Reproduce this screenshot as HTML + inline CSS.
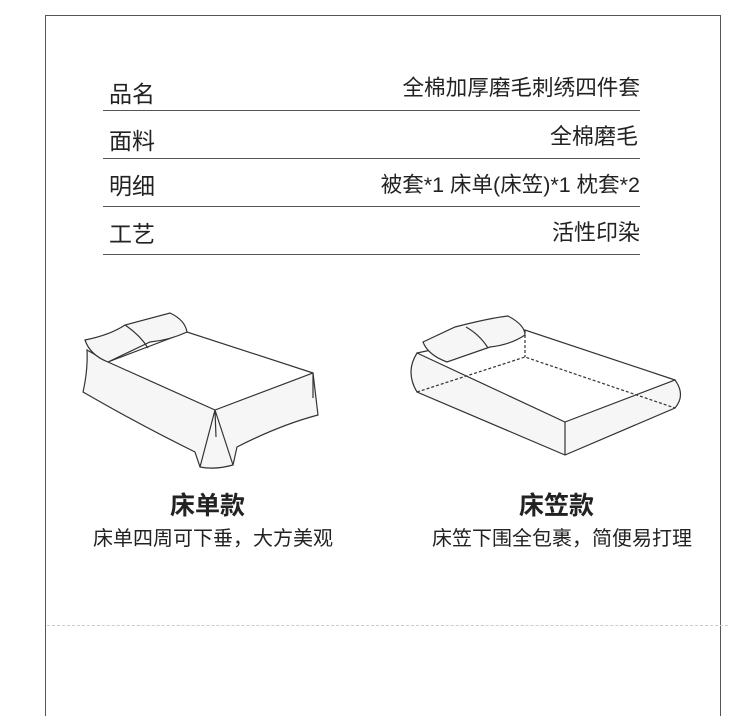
<!DOCTYPE html>
<html><head><meta charset="utf-8"><style>
body{margin:0;width:750px;height:662px;background:#fff;position:relative;overflow:hidden;font-family:"Liberation Sans","Noto Sans CJK SC",sans-serif;color:#222}
.t{position:absolute;font-size:22px;line-height:26px;white-space:nowrap}
.r{right:110px}
.l{left:109px;font-size:23px}
.ln{position:absolute;left:103px;width:537px;height:1px;background:#555}
</style></head><body>
<div style="position:absolute;left:45px;top:15px;width:674px;height:700px;border:1.5px solid #555;border-bottom:none"></div>
<div style="position:absolute;left:47px;top:625px;width:681px;border-top:1.5px dashed #ccc"></div>
<div class="t l" style="top:81px">品名</div><div class="t r" style="top:75px;font-size:21.6px">全棉加厚磨毛刺绣四件套</div>
<div class="ln" style="top:110px"></div>
<div class="t l" style="top:128px">面料</div><div class="t r" style="top:124px;right:112px">全棉磨毛</div>
<div class="ln" style="top:158px"></div>
<div class="t l" style="top:173px">明细</div><div class="t r" style="top:172px;font-size:21.5px">被套*1 床单(床笠)*1 枕套*2</div>
<div class="ln" style="top:206px"></div>
<div class="t l" style="top:221px">工艺</div><div class="t r" style="top:220px">活性印染</div>
<div class="ln" style="top:254px"></div>
<svg width="750" height="662" style="position:absolute;left:0;top:0" fill="#f6f6f6" stroke="#333" stroke-width="1.2">
<path d="M87,350 L108,362 L215,410 L313,373 L318,415 Q280,425 237,447 L233,465 Q215,470 200,467 L195,452 Q140,425 83,392 Q88,370 87,350Z"/>
<path d="M215,410 L200,467 M215,410 L233,465 M215,410 L216,437 M313,373 L313,398" fill="none"/>
<path d="M108,362 L187,332 L313,373" fill="none"/>
<path d="M85,340 Q110,335 125,325 L170,313 Q185,320 187,332 Q170,340 150,342 L108,362 Q90,355 85,340Z"/>
<path d="M125,325 Q140,335 148,348" fill="none"/>
<path d="M417,353 L565,422 L675,380 Q686,395 675,408 L565,455 L417,392 Q405,372 417,353Z"/>
<path d="M417,353 L525,330 L675,380" fill="none"/>
<path d="M565,422 L565,455" fill="none"/>
<path d="M417,392 L525,357 L675,408 M525,330 L525,357" fill="none" stroke-dasharray="3,2"/>
<path d="M423,342 L455,327 Q490,318 508,316 Q525,325 525,335 Q510,345 490,347 L447,362 Q428,355 423,342Z"/>
<path d="M466,327 Q480,335 488,348" fill="none"/>
</svg>
<div class="t" style="left:170px;top:491px;font-size:25px;line-height:30px;font-weight:bold">床单款</div>
<div class="t" style="left:93px;top:526px;font-size:20px">床单四周可下垂，大方美观</div>
<div class="t" style="left:519px;top:491px;font-size:25px;line-height:30px;font-weight:bold">床笠款</div>
<div class="t" style="left:432px;top:526px;font-size:20px">床笠下围全包裹，简便易打理</div>
</body></html>
